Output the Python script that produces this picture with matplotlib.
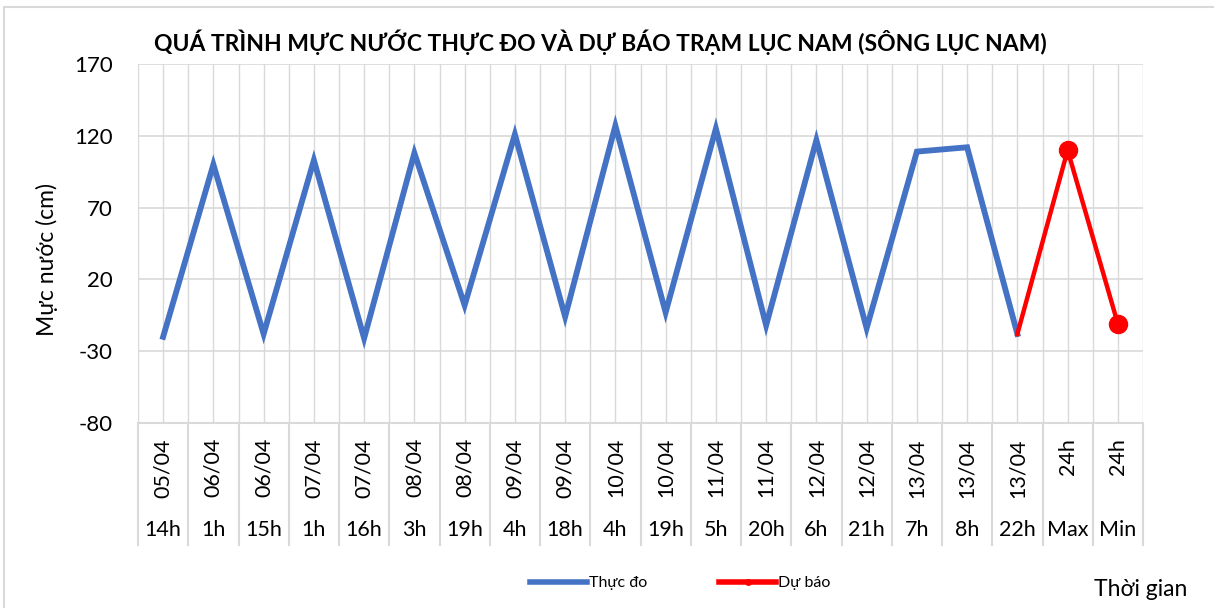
import matplotlib
matplotlib.use('Agg')
import matplotlib.pyplot as plt
from matplotlib.lines import Line2D
from matplotlib.patches import Rectangle
import matplotlib.transforms as mtransforms

plt.rcParams['font.family'] = ['Lato', 'DejaVu Sans']
plt.rcParams['axes.unicode_minus'] = False

# Dữ liệu
dates = ['05/04', '06/04', '06/04', '07/04', '07/04', '08/04', '08/04', '09/04', '09/04', '10/04',
         '10/04', '11/04', '11/04', '12/04', '12/04', '13/04', '13/04', '13/04', '24h', '24h']
hours = ['14h', '1h', '15h', '1h', '16h', '3h', '19h', '4h', '18h', '4h',
         '19h', '5h', '20h', '6h', '21h', '7h', '8h', '22h', 'Max', 'Min']
thuc_do = [-20, 100, -18, 103, -21, 108, 2, 121, -6, 127,
           -3, 125, -12, 117, -14, 109, 112, -18]
du_bao = [-18, 110, -11]
du_bao_start = 17

W, H = 1214, 608
fig = plt.figure(figsize=(W / 100, H / 100), dpi=100)

# Khung ngoài của biểu đồ
fig.patches.append(Rectangle((4 / W, -0.1), 1.2, 1.1 - 7 / H, transform=fig.transFigure,
                             fill=False, edgecolor='#d9d9d9', linewidth=1.5))

ax = fig.add_axes([138 / W, 1 - 423 / H, (1143 - 138) / W, (423 - 64) / H])

n = len(hours)
x_thuc = list(range(len(thuc_do)))
x_du = list(range(du_bao_start, du_bao_start + len(du_bao)))

ax.set_xlim(-0.5, n - 0.5)
ax.set_ylim(-80, 170)
ax.set_yticks([-80, -30, 20, 70, 120, 170])

# Lưới
grid_c = '#d9d9d9'
for y in ax.get_yticks():
    ax.axhline(y, color=grid_c, lw=1.2, zorder=0)
for k in range(2 * n + 1):
    ax.axvline(-0.5 + k * 0.5, color=grid_c, lw=1.0, zorder=0)
for s in ax.spines.values():
    s.set_visible(False)

ax.plot(x_thuc, thuc_do, color='#4472C4', lw=4.2, solid_joinstyle='miter', zorder=3)
ax.plot(x_du, du_bao, color='#FF0000', lw=3.2, marker='o', markersize=13,
        markevery=[1, 2], zorder=4)

ax.tick_params(axis='y', length=0, pad=18, labelsize=16)
ax.tick_params(axis='x', length=0, labelbottom=False)

# Trục danh mục hai tầng
trans = mtransforms.blended_transform_factory(ax.transData, ax.transAxes)
y_sep = -(545 - 423) / (423 - 64)
for k in range(n + 1):
    ax.plot([k - 0.5, k - 0.5], [0, y_sep], transform=trans, color=grid_c, lw=1.5, clip_on=False)
ax.plot([-0.5, n - 0.5], [0, 0], transform=trans, color=grid_c, lw=1.5, clip_on=False)

y_date = -(438 - 423) / (423 - 64)
y_hour = -(530 - 423) / (423 - 64)
for i in range(n):
    ax.text(i, y_date, dates[i], transform=trans, rotation=90, ha='center', va='top', fontsize=15.5)
    ax.text(i, y_hour, hours[i], transform=trans, ha='center', va='center', fontsize=15.5)

fig.text(600 / W, 1 - 42 / H, 'QUÁ TRÌNH MỰC NƯỚC THỰC ĐO VÀ DỰ BÁO TRẠM LỤC NAM (SÔNG LỤC NAM)',
         ha='center', va='center', fontsize=16.5, fontweight='bold')
fig.text(47 / W, 1 - 260 / H, 'Mực nước (cm)', rotation=90, ha='center', va='center', fontsize=16.5)
fig.text(1141 / W, 1 - 590 / H, 'Thời gian', ha='center', va='center', fontsize=16.5)

handles = [Line2D([], [], color='#4472C4', lw=4),
           Line2D([], [], color='#FF0000', lw=4, marker='o', markersize=4)]
fig.legend(handles, ['Thực đo', 'Dự báo'], loc='center', bbox_to_anchor=(680 / W, 1 - 583 / H),
           ncol=2, frameon=False, fontsize=11.5, handlelength=3.6, handletextpad=0.1,
           columnspacing=4.5)

fig.savefig('out.png', dpi=100)
